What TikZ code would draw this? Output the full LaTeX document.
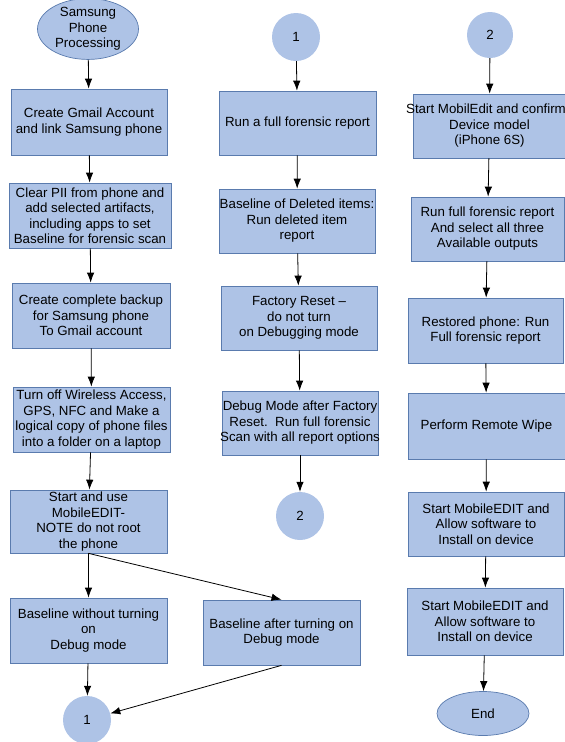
\documentclass[tikz,border=0pt]{standalone}
\usepackage{fontspec}
\setmainfont{Liberation Sans}
\usepackage{tikz}
\usetikzlibrary{arrows.meta,shapes.geometric}
\definecolor{boxfill}{HTML}{AEC3E6}
\definecolor{boxline}{HTML}{5A7BAE}
\newcommand{\fitline}[1]{\makebox[150pt]{#1}}

\begin{document}
\begin{tikzpicture}[x=1pt,y=-1pt,
    every node/.style={font=\fontsize{13.3}{15.5}\selectfont, align=center, inner sep=0pt},
    stepbox/.style={rectangle, draw=boxline, line width=0.7pt, fill=boxfill, minimum width=157, minimum height=65},
    endpoint/.style={ellipse, draw=boxline, line width=0.7pt, fill=boxfill},
    pageref/.style={circle, fill=boxfill, minimum size=48},
    flow/.style={-{Latex[length=10pt,width=7.5pt]}, line width=0.8pt}]
    \useasboundingbox (0,0) rectangle (565,742);
    % first column
    \node[endpoint, minimum width=101, minimum height=49] (start) at (88,29) {Samsung\\Phone\\Processing};
    \node[stepbox, minimum width=156, minimum height=66] (gmail) at (89,122) {Create Gmail Account\\and link Samsung phone};
    \node[stepbox, minimum width=162] (clearpii) at (90,215.5) {Clear PII from phone and\\add selected artifacts,\\including apps to set\\Baseline for forensic scan};
    \node[stepbox, minimum width=158] (backup) at (91,315.5) {Create complete backup\\for Samsung phone\\To Gmail account};
    \node[stepbox] (wireless) at (91.5,419.5) {Turn off Wireless Access,\\GPS, NFC and Make a\\\fitline{logical copy of phone files}\\into a folder on a laptop};
    \node[stepbox, minimum height=63] (useedit) at (88.5,521.5) {Start and use\\MobileEDIT-\\NOTE do not root\\the phone};
    \node[stepbox] (nodebug) at (88.5,630.5) {Baseline without turning\\on\\Debug mode};
    \node[stepbox] (withdebug) at (281.5,632.5) {Baseline after turning on\\Debug mode};
    \node[pageref] (refone) at (87,720) {1};
    % second column
    \node[pageref] (contone) at (296,37) {1};
    \node[stepbox, minimum height=64] (fullrep) at (297.5,123) {Run a full forensic report};
    \node[stepbox, minimum width=156, minimum height=64] (deleted) at (297,221) {\fitline{Baseline of Deleted items:}\\Run deleted item\\report};
    \node[stepbox, minimum width=156, minimum height=64] (reset) at (299,318) {Factory Reset –\\do not turn\\on Debugging mode};
    \node[stepbox, minimum width=156, minimum height=64] (debugscan) at (300,423) {\fitline{Debug Mode after Factory}\\\fitline{Reset.\ \ Run full forensic}\\\fitline{Scan with all report options}};
    \node[pageref] (reftwo) at (300,516) {2};
    % third column
    \node[pageref, minimum size=46] (conttwo) at (490,35) {2};
    \node[stepbox, minimum width=153, minimum height=64] (confirm) at (489.5,126) {\fitline{\hspace{-7pt}Start MobilEdit and confirm}\\Device model\\(iPhone 6S)};
    \node[stepbox, minimum width=153, minimum height=64] (outputs) at (487.5,229) {Run full forensic report\\And select all three\\Available outputs};
    \node[stepbox, minimum width=155] (restored) at (485.5,330.5) {Restored phone: Run\\Full forensic report};
    \node[stepbox, minimum height=66] (wipe) at (486.5,426) {Perform Remote Wipe};
    \node[stepbox, minimum width=156, minimum height=64] (installa) at (486,524) {Start MobileEDIT and\\Allow software to\\Install on device};
    \node[stepbox, minimum width=156, minimum height=67] (installb) at (485,621.5) {Start MobileEDIT and\\Allow software to\\Install on device};
    \node[endpoint, minimum width=92, minimum height=44] (finish) at (483,713.5) {End};
    % connectors
    \draw[flow] (start) -- (gmail);
    \draw[flow] (gmail) -- (clearpii);
    \draw[flow] (clearpii) -- (backup);
    \draw[flow] (backup) -- (wireless);
    \draw[flow] (wireless) -- (useedit);
    \draw[flow] (useedit.south) -- (nodebug);
    \draw[flow] (useedit.south) -- (withdebug.north);
    \draw[flow] (nodebug) -- (refone);
    \draw[flow] (withdebug.south) -- (refone);
    \draw[flow] (contone) -- (fullrep);
    \draw[flow] (fullrep) -- (deleted);
    \draw[flow] (deleted) -- (reset);
    \draw[flow] (reset) -- (debugscan);
    \draw[flow] (debugscan) -- (reftwo);
    \draw[flow] (conttwo) -- (confirm);
    \draw[flow] (confirm) -- (outputs);
    \draw[flow] (outputs) -- (restored);
    \draw[flow] (restored) -- (wipe);
    \draw[flow] (wipe) -- (installa);
    \draw[flow] (installa) -- (installb);
    \draw[flow] (installb) -- (finish);
\end{tikzpicture}
\end{document}
